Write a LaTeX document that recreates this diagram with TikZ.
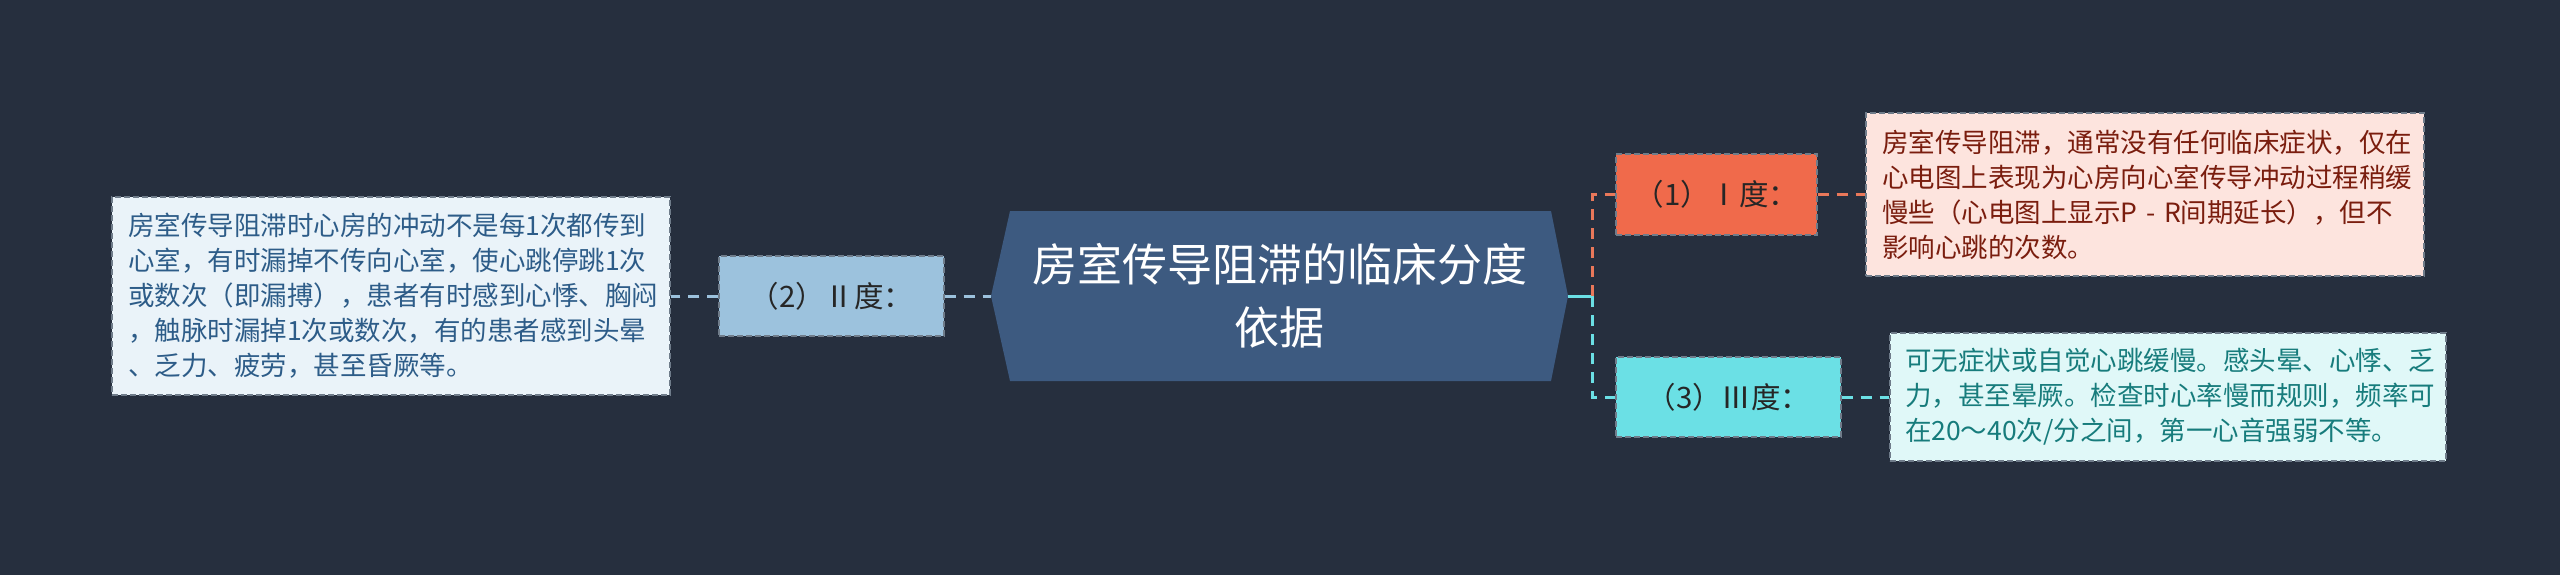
\documentclass[tikz,border=0pt]{standalone}
\usepackage{fontspec}
\setmainfont{Noto Sans CJK SC}
\definecolor{bg}{HTML}{262F3E}
\definecolor{cfill}{HTML}{3D5A80}
\definecolor{lblue}{HTML}{9CC2DD}
\definecolor{orng}{HTML}{F06A4B}
\definecolor{orngline}{HTML}{E9785A}
\definecolor{cyan2}{HTML}{6BE0E5}
\definecolor{d2fill}{HTML}{EAF3F9}
\definecolor{d2text}{HTML}{2D5C88}
\definecolor{d1fill}{HTML}{FDE4DE}
\definecolor{d1text}{HTML}{7A1D0E}
\definecolor{d3fill}{HTML}{E0F8F8}
\definecolor{d3text}{HTML}{177C7C}
\definecolor{bordr}{HTML}{6F7C8A}
\tikzset{
  x=1pt, y=-1pt,
  central/.style={text=white, align=center, font=\fontsize{45}{63}\selectfont, inner sep=0pt},
  levelbox/.style={draw=bordr, line width=1.2pt, dash pattern=on 6pt off 3pt, inner sep=0pt, text=black!85, font=\fontsize{29.5}{34}\selectfont},
  detailbox/.style={draw=bordr, line width=1.2pt, dash pattern=on 6pt off 3pt, inner sep=0pt, align=left, font=\fontsize{26.5}{35}\selectfont, anchor=center},
  link/.style={line width=3pt, dash pattern=on 11pt off 8pt},
  solidlink/.style={line width=3pt}
}
\begin{document}
\begin{tikzpicture}
\fill[bg] (0,0) rectangle (2560,575);
\useasboundingbox (0,0) rectangle (2560,575);
% central shape
\fill[cfill] (991,296) -- (1010,211) -- (1551,211) -- (1568,296) -- (1551,381) -- (1010,381) -- cycle;
\node[central] (c) at (1279.5,296) {房室传导阻滞的临床分度\\依据};
\coordinate (cl) at (991,296);
\coordinate (cr) at (1568,296);
\coordinate (j) at (1592,296);
% level boxes
\node[levelbox, fill=lblue, minimum width=225pt, minimum height=80pt] (c2) at (831.5,296) {（2）Ⅱ度：};
\node[levelbox, fill=orng, minimum width=201pt, minimum height=81pt] (c1) at (1716.5,194.5) {（1）Ⅰ度：};
\node[levelbox, fill=cyan2, minimum width=225pt, minimum height=80pt] (c3) at (1728.5,397) {（3）Ⅲ度：};
% detail boxes
\node[detailbox, fill=d2fill, text=d2text, minimum width=558pt, minimum height=198pt, text width=526pt] (d2) at (391,296)
 {房室传导阻滞时心房的冲动不是每1次都传到\\心室，有时漏掉不传向心室，使心跳停跳1次\\或数次（即漏搏），患者有时感到心悸、胸闷\\，触脉时漏掉1次或数次，有的患者感到头晕\\、乏力、疲劳，甚至昏厥等。};
\node[detailbox, fill=d1fill, text=d1text, minimum width=558pt, minimum height=163pt, text width=526pt] (d1) at (2145,194.5)
 {房室传导阻滞，通常没有任何临床症状，仅在\\心电图上表现为心房向心室传导冲动过程稍缓\\慢些（心电图上显示P - R间期延长），但不\\影响心跳的次数。};
\node[detailbox, fill=d3fill, text=d3text, minimum width=556pt, minimum height=128pt, text width=526pt] (d3) at (2168,397)
 {可无症状或自觉心跳缓慢。感头晕、心悸、乏\\力，甚至晕厥。检查时心率慢而规则，频率可\\在20～40次/分之间，第一心音强弱不等。};
% connectors
\draw[link, lblue] (c2.east) -- (cl);
\draw[link, lblue] (c2.west) -- (d2.east);
\draw[solidlink, cyan2] (cr) -- (j);
\draw[link, orngline] (j) |- (c1.west);
\draw[link, cyan2] (j) |- (c3.west);
\draw[link, orngline] (c1.east) -- (d1.west);
\draw[link, cyan2] (c3.east) -- (d3.west);
\end{tikzpicture}
\end{document}
